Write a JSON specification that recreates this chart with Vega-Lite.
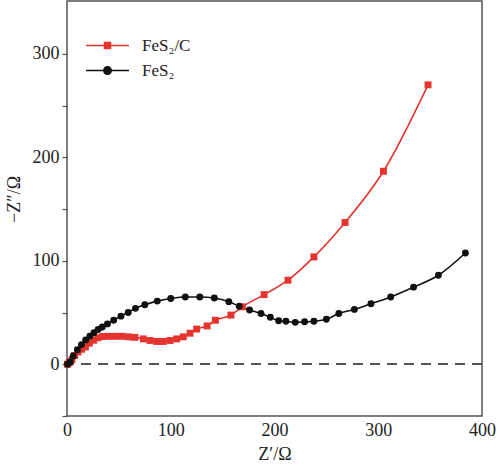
{
  "$schema": "https://vega.github.io/schema/vega-lite/v6.json",
  "width": 415,
  "height": 415,
  "autosize": {"type": "none"},
  "padding": {"left": 67, "top": 1, "right": 17, "bottom": 54},
  "background": "white",
  "config": {
    "view": {"stroke": "#555555", "strokeWidth": 1.5},
    "font": "Liberation Serif",
    "style": {"guide-label": {"font": "Liberation Serif"}, "guide-title": {"font": "Liberation Serif"}},
    "axis": {"labelFont": "Liberation Serif", "titleFont": "Liberation Serif", "labelFontSize": 18, "titleFontSize": 18, "labelColor": "#222", "titleColor": "#222", "titleFontWeight": "normal", "domain": false, "grid": false, "tickColor": "#555555", "tickWidth": 1.2},
    "legend": {"labelFont": "Liberation Serif", "labelFontSize": 17, "labelColor": "#222", "padding": 0, "symbolSize": 100, "labelOffset": 26, "orient": "none", "title": null}
  },
  "data": {"values": [
    {"series": "FeS₂/C", "x": 0.5, "y": 0},
    {"series": "FeS₂/C", "x": 2.2, "y": 1.5},
    {"series": "FeS₂/C", "x": 4.8, "y": 4.5},
    {"series": "FeS₂/C", "x": 7.4, "y": 8.5},
    {"series": "FeS₂/C", "x": 10.6, "y": 11.9},
    {"series": "FeS₂/C", "x": 14, "y": 14.5},
    {"series": "FeS₂/C", "x": 17.7, "y": 16.7},
    {"series": "FeS₂/C", "x": 21.5, "y": 20.4},
    {"series": "FeS₂/C", "x": 25.7, "y": 23.2},
    {"series": "FeS₂/C", "x": 29.9, "y": 25.6},
    {"series": "FeS₂/C", "x": 34.4, "y": 26.8},
    {"series": "FeS₂/C", "x": 40.2, "y": 27},
    {"series": "FeS₂/C", "x": 46.6, "y": 27},
    {"series": "FeS₂/C", "x": 53, "y": 27},
    {"series": "FeS₂/C", "x": 59.4, "y": 26.5},
    {"series": "FeS₂/C", "x": 65.5, "y": 26},
    {"series": "FeS₂/C", "x": 73.6, "y": 24.5},
    {"series": "FeS₂/C", "x": 80, "y": 23},
    {"series": "FeS₂/C", "x": 86.4, "y": 22},
    {"series": "FeS₂/C", "x": 92.8, "y": 22},
    {"series": "FeS₂/C", "x": 99.3, "y": 23},
    {"series": "FeS₂/C", "x": 105.7, "y": 24.5},
    {"series": "FeS₂/C", "x": 112.1, "y": 26.5},
    {"series": "FeS₂/C", "x": 118.6, "y": 30},
    {"series": "FeS₂/C", "x": 125, "y": 34},
    {"series": "FeS₂/C", "x": 135, "y": 37},
    {"series": "FeS₂/C", "x": 143, "y": 42.5},
    {"series": "FeS₂/C", "x": 158, "y": 47.5},
    {"series": "FeS₂/C", "x": 169, "y": 55.5},
    {"series": "FeS₂/C", "x": 190, "y": 67.3},
    {"series": "FeS₂/C", "x": 213, "y": 81.2},
    {"series": "FeS₂/C", "x": 238, "y": 103.7},
    {"series": "FeS₂/C", "x": 268, "y": 137},
    {"series": "FeS₂/C", "x": 305, "y": 186.5},
    {"series": "FeS₂/C", "x": 348, "y": 270},
    {"series": "FeS₂", "x": 0.5, "y": 0},
    {"series": "FeS₂", "x": 3, "y": 2.5},
    {"series": "FeS₂", "x": 6, "y": 8},
    {"series": "FeS₂", "x": 10, "y": 14},
    {"series": "FeS₂", "x": 14, "y": 19},
    {"series": "FeS₂", "x": 18, "y": 23.5},
    {"series": "FeS₂", "x": 22, "y": 27},
    {"series": "FeS₂", "x": 26, "y": 30.5},
    {"series": "FeS₂", "x": 30, "y": 33.5},
    {"series": "FeS₂", "x": 34, "y": 36},
    {"series": "FeS₂", "x": 39, "y": 39},
    {"series": "FeS₂", "x": 45, "y": 42.5},
    {"series": "FeS₂", "x": 52, "y": 46.5},
    {"series": "FeS₂", "x": 59, "y": 50},
    {"series": "FeS₂", "x": 66, "y": 54},
    {"series": "FeS₂", "x": 75, "y": 57.5},
    {"series": "FeS₂", "x": 87, "y": 61},
    {"series": "FeS₂", "x": 100, "y": 63.5},
    {"series": "FeS₂", "x": 114, "y": 65},
    {"series": "FeS₂", "x": 128, "y": 65},
    {"series": "FeS₂", "x": 142, "y": 64},
    {"series": "FeS₂", "x": 156, "y": 60.5},
    {"series": "FeS₂", "x": 166, "y": 56},
    {"series": "FeS₂", "x": 176, "y": 52.5},
    {"series": "FeS₂", "x": 187, "y": 49},
    {"series": "FeS₂", "x": 196, "y": 45.5},
    {"series": "FeS₂", "x": 204, "y": 42},
    {"series": "FeS₂", "x": 211, "y": 41.5},
    {"series": "FeS₂", "x": 220, "y": 40.5},
    {"series": "FeS₂", "x": 229, "y": 41},
    {"series": "FeS₂", "x": 238, "y": 41.5},
    {"series": "FeS₂", "x": 250, "y": 43.5},
    {"series": "FeS₂", "x": 262, "y": 49},
    {"series": "FeS₂", "x": 277, "y": 53},
    {"series": "FeS₂", "x": 293, "y": 58.5},
    {"series": "FeS₂", "x": 312, "y": 65},
    {"series": "FeS₂", "x": 334, "y": 74.5},
    {"series": "FeS₂", "x": 358, "y": 86},
    {"series": "FeS₂", "x": 384, "y": 107.5}
  ]},
  "resolve": {"scale": {"shape": "independent"}, "legend": {"shape": "independent"}},
  "layer": [
    {
      "mark": {"type": "rule", "strokeDash": [10, 7], "color": "#555555", "strokeWidth": 1.2},
      "encoding": {"y": {"datum": 0, "type": "quantitative"}}
    },
    {
      "mark": {"type": "line", "interpolate": "monotone", "strokeWidth": 1.6},
      "encoding": {
        "x": {"field": "x", "type": "quantitative", "scale": {"domain": [0, 400], "nice": false}, "axis": {"values": [0, 100, 200, 300, 400], "tickSize": 0, "labelPadding": 5, "title": "Z′/Ω", "titlePadding": 6, "labelFlush": false}},
        "y": {"field": "y", "type": "quantitative", "scale": {"domain": [-50, 351], "nice": false, "zero": false}, "axis": {"values": [-50, 0, 50, 100, 150, 200, 250, 300], "tickSize": 5, "labelPadding": 3, "labelExpr": "datum.value % 100 === 0 ? datum.label : ''", "title": "−Z″/Ω", "titlePadding": 9, "titleY": 198}},
        "color": {"field": "series", "type": "nominal", "scale": {"domain": ["FeS₂/C", "FeS₂"], "range": ["#e4342d", "#111111"]}, "legend": null}
      }
    },
    {
      "mark": {"type": "point", "filled": true, "opacity": 1, "size": 48},
      "encoding": {
        "x": {"field": "x", "type": "quantitative"},
        "y": {"field": "y", "type": "quantitative"},
        "shape": {"field": "series", "type": "nominal", "scale": {"domain": ["FeS₂/C", "FeS₂"], "range": ["square", "circle"]}, "legend": null},
        "color": {"field": "series", "type": "nominal", "legend": null}
      }
    },
    {
      "transform": [{"filter": "datum.series === 'none'"}],
      "mark": {"type": "point", "fill": "#e4342d", "stroke": "#e4342d", "strokeWidth": 1.6, "opacity": 1},
      "encoding": {
        "x": {"field": "x", "type": "quantitative"},
        "y": {"field": "y", "type": "quantitative"},
        "shape": {"field": "series", "type": "nominal", "scale": {"domain": ["FeS₂/C"], "range": ["M-4.3,-0.15H4.3V0.15H-4.3ZM-0.75,-0.75H0.75V0.75H-0.75Z"]}, "legend": {"legendX": 32, "legendY": 36, "symbolFillColor": "#e4342d", "symbolStrokeColor": "#e4342d", "symbolStrokeWidth": 0, "symbolOpacity": 1}}
      }
    },
    {
      "transform": [{"filter": "datum.series === 'none'"}],
      "mark": {"type": "point", "fill": "#111111", "stroke": "#111111", "strokeWidth": 1.6, "opacity": 1},
      "encoding": {
        "x": {"field": "x", "type": "quantitative"},
        "y": {"field": "y", "type": "quantitative"},
        "shape": {"field": "series", "type": "nominal", "scale": {"domain": ["FeS₂"], "range": ["M-4.3,-0.15H4.3V0.15H-4.3ZM0.9,0A0.9,0.9,0,1,1,-0.9,0A0.9,0.9,0,1,1,0.9,0Z"]}, "legend": {"legendX": 32, "legendY": 61, "symbolFillColor": "#111111", "symbolStrokeColor": "#111111", "symbolStrokeWidth": 0, "symbolOpacity": 1}}
      }
    }
  ]
}
